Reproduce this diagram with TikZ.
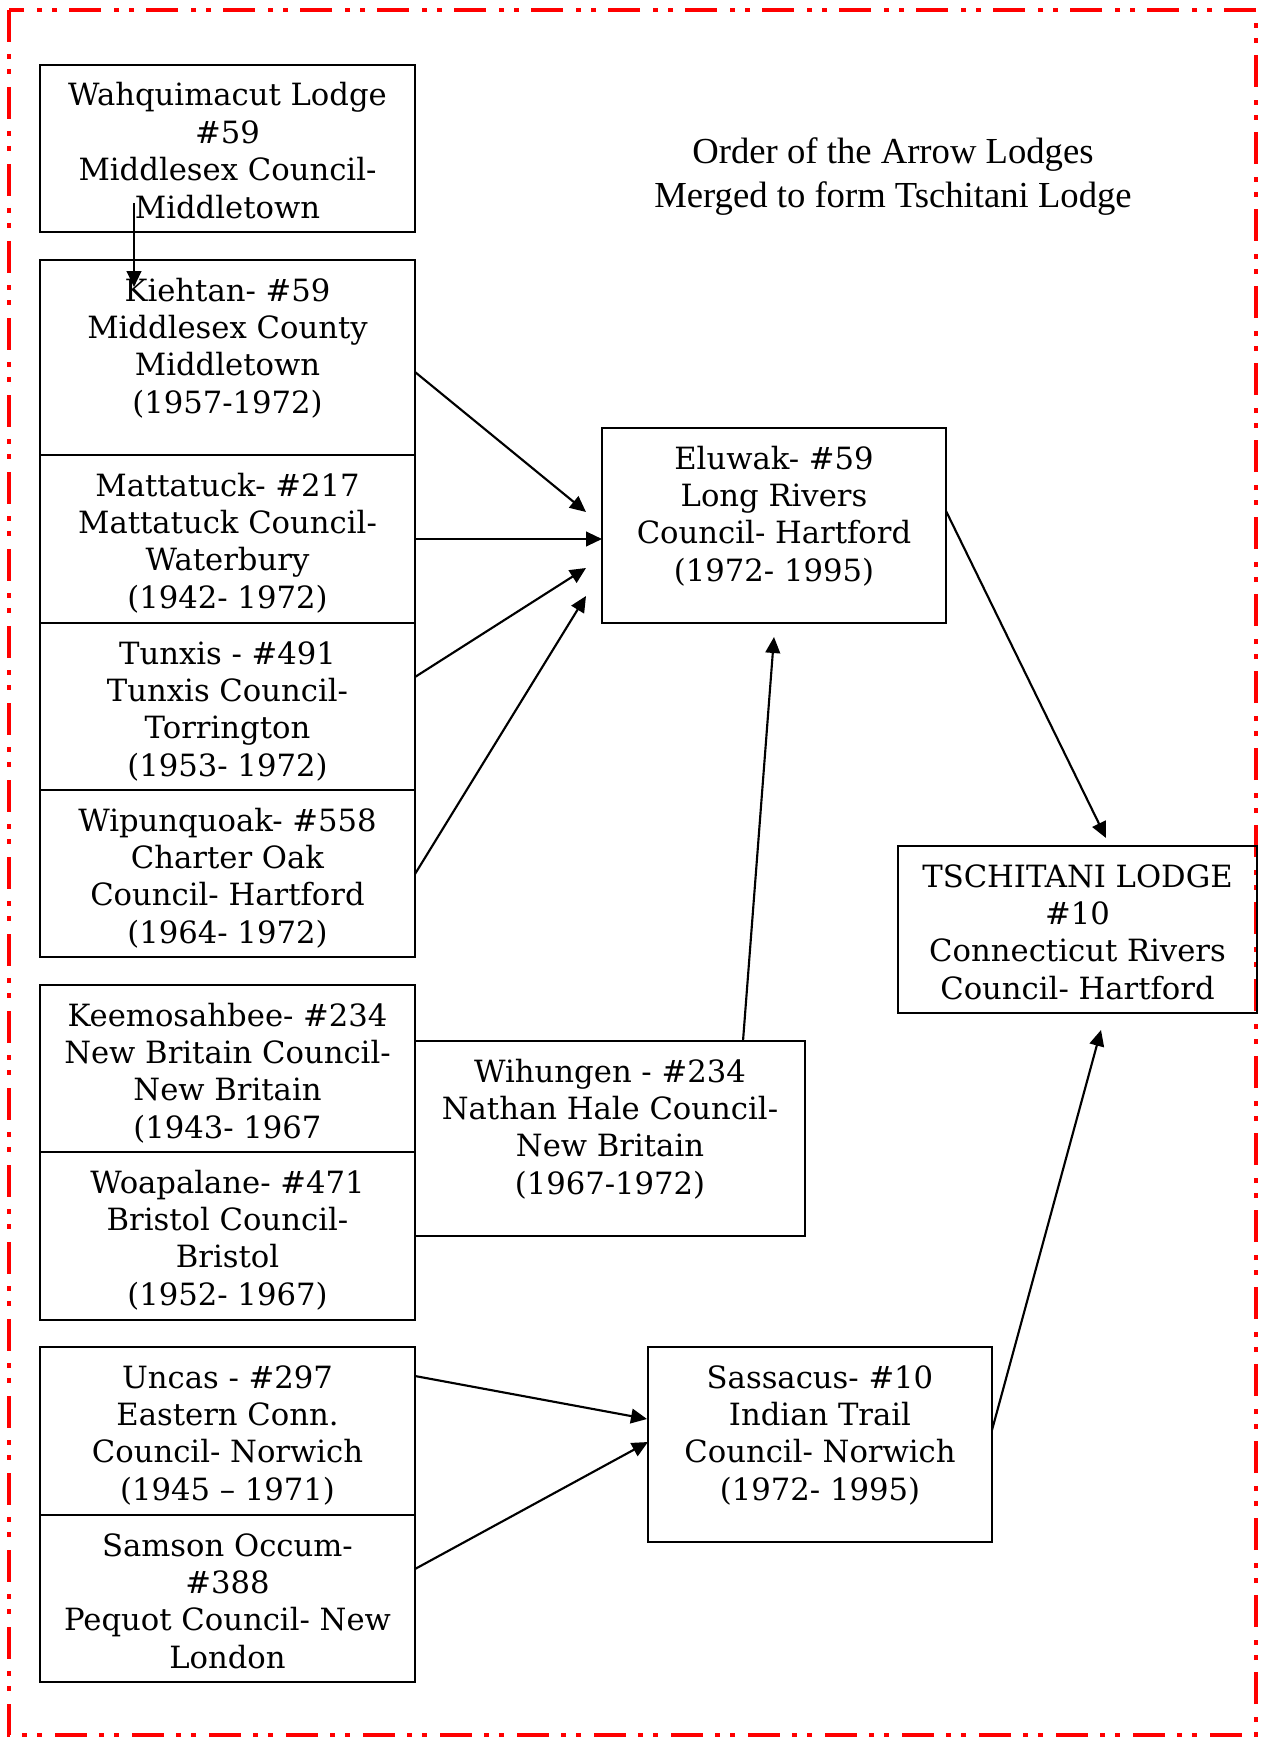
\documentclass[tikz,border=0pt]{standalone}
\usepackage{fontspec}
\setmainfont{DejaVu Serif}
\newfontfamily\titlefont{Liberation Serif}
\usetikzlibrary{arrows.meta,calc}
\newdimen\pxu \pxu=0.75pt
\newcommand{\lodgetxt}[3]{\parbox[t][#2\pxu][t]{#1\pxu}{\centering\rule{0pt}{41\pxu}#3\par}}
\begin{document}
\begin{tikzpicture}[x=0.75pt,y=-0.75pt,
  lodge/.style={draw=black, line width=1.6pt, inner sep=0pt, outer sep=0pt, anchor=north west,
    font=\fontsize{23}{28.1}\selectfont},
  arr/.style={draw=black, line width=1.6pt, -{Triangle[length=12pt,width=11pt]}},
  redframe/.style={draw=red, line width=2.5pt,
    dash pattern=on 24pt off 9pt on 3.75pt off 7.5pt on 3.75pt off 9.75pt},
  titletext/.style={font=\titlefont\fontsize{27.5}{33}\selectfont, align=center}]
\useasboundingbox (0,0) rectangle (1262,1737);
\draw[redframe] (9,10) rectangle (1256,1735);

\node[titletext, anchor=base] (title) at (893,208) {Order of the Arrow Lodges\\Merged to form Tschitani Lodge};

\node[lodge] (wah) at (40,65)   {\lodgetxt{375}{167}{Wahquimacut Lodge\\\#59\\Middlesex Council-\\Middletown}};
\node[lodge] (kie) at (40,260)  {\lodgetxt{375}{195}{Kiehtan- \#59\\Middlesex County\\Middletown\\(1957-1972)}};
\node[lodge] (mat) at (40,455)  {\lodgetxt{375}{168}{Mattatuck- \#217\\Mattatuck Council-\\Waterbury\\(1942- 1972)}};
\node[lodge] (tun) at (40,623)  {\lodgetxt{375}{167}{Tunxis - \#491\\Tunxis Council-\\Torrington\\(1953- 1972)}};
\node[lodge] (wip) at (40,790)  {\lodgetxt{375}{167}{Wipunquoak- \#558\\Charter Oak\\Council- Hartford\\(1964- 1972)}};
\node[lodge] (kee) at (40,985)  {\lodgetxt{375}{167}{Keemosahbee- \#234\\New Britain Council-\\New Britain\\(1943- 1967}};
\node[lodge] (woa) at (40,1152) {\lodgetxt{375}{168}{Woapalane- \#471\\Bristol Council-\\Bristol\\(1952- 1967)}};
\node[lodge] (unc) at (40,1347) {\lodgetxt{375}{168}{Uncas - \#297\\Eastern Conn.\\Council- Norwich\\(1945 – 1971)}};
\node[lodge] (sam) at (40,1515) {\lodgetxt{375}{167}{Samson Occum-\\\#388\\Pequot Council- New\\London}};
\node[lodge] (elu) at (602,428) {\lodgetxt{344}{195}{Eluwak- \#59\\Long Rivers\\Council- Hartford\\(1972- 1995)}};
\node[lodge] (tsc) at (898,846) {\lodgetxt{359}{167}{TSCHITANI LODGE\\\#10\\Connecticut Rivers\\Council- Hartford}};
\node[lodge] (wih) at (415,1041) {\lodgetxt{390}{195}{Wihungen - \#234\\Nathan Hale Council-\\New Britain\\(1967-1972)}};
\node[lodge] (sas) at (648,1347) {\lodgetxt{344}{195}{Sassacus- \#10\\Indian Trail\\Council- Norwich\\(1972- 1995)}};

\coordinate (tipkie) at ($(elu.north west)+(-16,84)$);
\coordinate (tiptun) at ($(elu.north west)+(-16,140)$);
\coordinate (tipwip) at ($(elu.north west)+(-16,168)$);
\coordinate (tipwih) at ($(elu.south west)+(172,14)$);
\coordinate (tipelu) at ($(tsc.north west)+(208,-8)$);
\coordinate (tipsas) at ($(tsc.south west)+(203,17)$);
\coordinate (tipunc) at ($(sas.north west)+(-1,72)$);
\coordinate (tipsam) at ($(sas.north west)+(0,95)$);

\draw[arr] ($(wah.south west)+(94,-29)$) -- ($(kie.north west)+(94,27)$);
\draw[arr] ($(kie.north east)+(0,112)$) -- (tipkie);
\draw[arr] ($(mat.north east)+(0,84)$) -- ($(elu.north west)+(0,111)$);
\draw[arr] ($(tun.north east)+(0,54)$) -- (tiptun);
\draw[arr] ($(wip.north east)+(0,84)$) -- (tipwip);
\draw[arr] ($(wih.north west)+(328,0)$) -- (tipwih);
\draw[arr] ($(elu.north east)+(0,83)$) -- (tipelu);
\draw[arr] ($(sas.north east)+(0,83)$) -- (tipsas);
\draw[arr] ($(unc.north east)+(0,29)$) -- (tipunc);
\draw[arr] ($(sam.north east)+(0,54)$) -- (tipsam);
\end{tikzpicture}
\end{document}
